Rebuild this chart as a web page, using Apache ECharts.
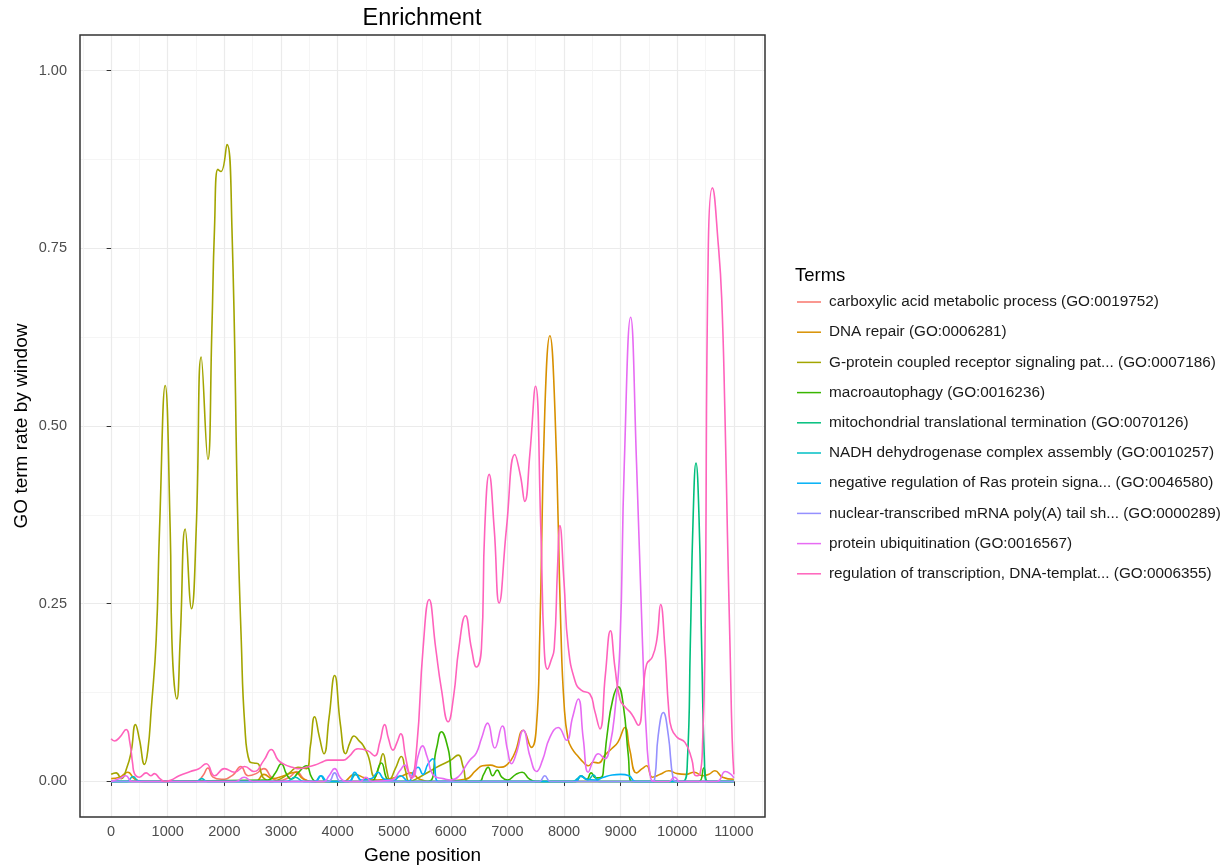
<!DOCTYPE html>
<html>
<head>
<meta charset="utf-8">
<title>Enrichment</title>
<script src="https://cdn.jsdelivr.net/npm/echarts@6/dist/echarts.min.js"></script>
<style>
  html, body { margin: 0; padding: 0; background: #ffffff; }
  #chart { width: 1225px; height: 865px; }
</style>
</head>
<body>
<div id="chart"></div>
<script>
// GO term names, in legend / drawing order
const terms = [
  'carboxylic acid metabolic process (GO:0019752)',
  'DNA repair (GO:0006281)',
  'G-protein coupled receptor signaling pat... (GO:0007186)',
  'macroautophagy (GO:0016236)',
  'mitochondrial translational termination (GO:0070126)',
  'NADH dehydrogenase complex assembly (GO:0010257)',
  'negative regulation of Ras protein signa... (GO:0046580)',
  'nuclear-transcribed mRNA poly(A) tail sh... (GO:0000289)',
  'protein ubiquitination (GO:0016567)',
  'regulation of transcription, DNA-templat... (GO:0006355)'
];
const termColors = ['#F8766D', '#D89000', '#A3A500', '#39B600', '#00BF7D',
                    '#00BFC4', '#00B0F6', '#9590FF', '#E76BF3', '#FF62BC'];

// [gene position, GO term rate] per term
const carboxylic = [[0,0],[1500,0],[1620,0.008],[1710,0.019],[1800,0.006],[1950,0.003],[2150,0.009],[2290,0.021],[2420,0.008],[2560,0.011],[2700,0.018],[2830,0.006],[2950,0.001],[3150,0.006],[3280,0.014],[3400,0.004],[3550,0],[11000,0]];
const dnaRepair = [[0,0.004],[150,0.006],[295,0.013],[420,0.003],[600,0],[2550,0],[2700,0.01],[2850,0.004],[3050,0.008],[3250,0.013],[3400,0.003],[3600,0],[4100,0],[4300,0.01],[4480,0.005],[4700,0.002],[5100,0.007],[5300,0.012],[5450,0.003],[5700,0],[6250,0.003],[6450,0.016],[6560,0.022],[6700,0.023],[6850,0.02],[7000,0.024],[7130,0.04],[7280,0.072],[7425,0.048],[7510,0.075],[7570,0.2],[7660,0.52],[7750,0.627],[7840,0.52],[7944,0.215],[8000,0.11],[8070,0.06],[8150,0.045],[8250,0.035],[8340,0.027],[8430,0.022],[8517,0.027],[8610,0.026],[8720,0.037],[8840,0.046],[8950,0.055],[9076,0.076],[9160,0.045],[9282,0.012],[9380,0.018],[9460,0.022],[9560,0.006],[9700,0.01],[9850,0.015],[10000,0.011],[10150,0.01],[10300,0.013],[10450,0.008],[10560,0.01],[10665,0.015],[10800,0.006],[11000,0.003]];
const gProtein = [[0,0.01],[88,0.012],[177,0.004],[280,0.02],[354,0.042],[430,0.08],[500,0.059],[590,0.024],[650,0.045],[707,0.1],[796,0.2],[855,0.355],[955,0.557],[1043,0.355],[1073,0.2],[1161,0.116],[1220,0.2],[1308,0.355],[1420,0.243],[1503,0.355],[1591,0.597],[1709,0.453],[1780,0.637],[1826,0.778],[1885,0.861],[1940,0.858],[2046,0.896],[2134,0.778],[2240,0.355],[2298,0.2],[2360,0.08],[2445,0.028],[2520,0.026],[2594,0.025],[2650,0.012],[2705,0.004],[2850,0],[3000,0.004],[3150,0.012],[3300,0.02],[3448,0.018],[3520,0.05],[3595,0.091],[3680,0.062],[3759,0.039],[3850,0.09],[3948,0.149],[4050,0.08],[4143,0.039],[4220,0.055],[4290,0.064],[4380,0.057],[4449,0.051],[4537,0.037],[4655,0.006],[4730,0.02],[4802,0.039],[4870,0.015],[4920,0.003],[5020,0.018],[5127,0.035],[5200,0.015],[5270,0],[5400,0.004],[5600,0.013],[5800,0.022],[6000,0.03],[6130,0.037],[6220,0.02],[6306,0],[11000,0]];
const macroautophagy = [[0,0],[2770,0.002],[2900,0.012],[3006,0.025],[3100,0.01],[3182,0.003],[3300,0.012],[3448,0.022],[3540,0.006],[3620,0],[4600,0],[4655,0.004],[4774,0.026],[4890,0.002],[5000,0],[5600,0],[5746,0.046],[5834,0.07],[5953,0.046],[6070,0],[6500,0],[6580,0.01],[6660,0.02],[6740,0.008],[6820,0.016],[6900,0.006],[7000,0.002],[7150,0.01],[7260,0.013],[7380,0.004],[7500,0],[8200,0],[8300,0.008],[8400,0.003],[8480,0.012],[8560,0.005],[8663,0.006],[8700,0.02],[8760,0.065],[8860,0.115],[8958,0.133],[9047,0.107],[9135,0.037],[9194,0],[10380,0],[10470,0.019],[10540,0],[11000,0]];
const mitoTermination = [[0,0],[10100,0],[10180,0.03],[10230,0.19],[10280,0.37],[10331,0.448],[10385,0.37],[10431,0.19],[10480,0.03],[10520,0],[11000,0]];
const nadhAssembly = [[0,0],[280,0],[384,0.007],[480,0.001],[600,0],[1500,0],[1600,0.004],[1700,0],[3100,0],[3250,0.006],[3400,0],[3600,0],[3700,0.008],[3800,0],[4200,0],[4320,0.01],[4450,0],[8150,0],[8300,0.007],[8420,0.002],[8520,0.009],[8620,0],[11000,0]];
const rasNegReg = [[0,0],[3600,0],[3713,0.008],[3820,0],[4200,0],[4302,0.013],[4420,0.002],[4600,0.004],[4715,0.013],[4830,0.003],[5000,0.002],[5110,0.008],[5250,0],[5350,0.015],[5422,0.02],[5505,0.01],[5600,0.025],[5686,0.032],[5776,0],[8200,0],[8300,0.008],[8400,0.003],[8550,0.002],[8700,0.006],[8850,0.009],[9000,0.01],[9150,0.008],[9260,0],[11000,0]];
const polyATail = [[0,0],[3830,0],[3948,0.012],[4060,0],[7560,0],[7660,0.008],[7760,0],[9540,0],[9600,0.003],[9664,0.065],[9754,0.097],[9842,0.065],[9930,0.003],[10000,0],[11000,0]];
const ubiquitination = [[0,0],[150,0.004],[260,0.008],[370,0],[2200,0],[2350,0.006],[2500,0],[3750,0],[3850,0.008],[3948,0.018],[4050,0.005],[4150,0],[4400,0],[4500,0.006],[4600,0],[4950,0.002],[5100,0.015],[5186,0.023],[5260,0.012],[5333,0.006],[5420,0.035],[5500,0.05],[5580,0.035],[5700,0.008],[5864,0.004],[6000,0.002],[6150,0.008],[6250,0.02],[6335,0.03],[6450,0.04],[6540,0.06],[6650,0.082],[6777,0.047],[6910,0.078],[7000,0.045],[7072,0.025],[7160,0.04],[7280,0.072],[7400,0.035],[7514,0.014],[7620,0.03],[7750,0.062],[7898,0.076],[8045,0.058],[8150,0.09],[8251,0.116],[8340,0.06],[8427,0.013],[8520,0.03],[8605,0.039],[8722,0.032],[8810,0.05],[8900,0.1],[8987,0.19],[9064,0.445],[9176,0.653],[9282,0.445],[9388,0.19],[9460,0.06],[9530,0.005],[9600,0],[9850,0],[9950,0.006],[10050,0],[10700,0],[10850,0.014],[10950,0.01],[11000,0.005]];
const transcriptionReg = [[0,0.06],[60,0.057],[150,0.062],[265,0.073],[330,0.055],[380,0.025],[412,0.011],[500,0.006],[619,0.012],[700,0.008],[766,0.011],[860,0.004],[950,0],[1060,0.002],[1200,0.008],[1400,0.014],[1550,0.018],[1680,0.025],[1830,0.008],[2000,0.018],[2180,0.013],[2357,0.021],[2520,0.014],[2700,0.03],[2829,0.045],[2950,0.03],[3060,0.024],[3200,0.02],[3300,0.018],[3450,0.02],[3600,0.023],[3720,0.027],[3830,0.03],[3950,0.03],[4100,0.03],[4200,0.035],[4360,0.046],[4537,0.043],[4655,0.036],[4745,0.055],[4832,0.08],[4900,0.06],[4980,0.044],[5050,0.055],[5115,0.067],[5200,0.035],[5260,0.012],[5300,0.004],[5400,0.05],[5510,0.187],[5617,0.256],[5734,0.187],[5834,0.13],[5953,0.084],[6050,0.12],[6141,0.187],[6259,0.233],[6365,0.187],[6453,0.161],[6541,0.187],[6600,0.356],[6677,0.432],[6766,0.356],[6854,0.251],[6983,0.356],[7131,0.46],[7230,0.43],[7307,0.394],[7396,0.46],[7496,0.556],[7590,0.356],[7650,0.187],[7709,0.158],[7770,0.17],[7827,0.187],[7885,0.3],[7926,0.36],[8000,0.28],[8074,0.19],[8200,0.14],[8310,0.128],[8457,0.123],[8540,0.1],[8634,0.074],[8730,0.15],[8820,0.212],[8900,0.16],[8990,0.115],[9076,0.105],[9194,0.095],[9312,0.079],[9400,0.13],[9460,0.165],[9560,0.175],[9640,0.2],[9707,0.249],[9780,0.19],[9850,0.1],[9900,0.074],[10000,0.062],[10136,0.055],[10254,0.032],[10330,0.008],[10400,0.01],[10450,0.06],[10490,0.19],[10549,0.754],[10620,0.835],[10726,0.754],[10785,0.68],[10843,0.515],[10886,0.35],[10932,0.19],[10970,0.06],[11000,0.01]];

const termSeries = [carboxylic, dnaRepair, gProtein, macroautophagy, mitoTermination,
                    nadhAssembly, rasNegReg, polyATail, ubiquitination, transcriptionReg];

// axis breaks
const xTicks = [0, 1000, 2000, 3000, 4000, 5000, 6000, 7000, 8000, 9000, 10000, 11000];
const xMinorTicks = [-500, 500, 1500, 2500, 3500, 4500, 5500, 6500, 7500, 8500, 9500, 10500, 11500];
const yTicks = [0, 0.25, 0.5, 0.75, 1];
const yMinorTicks = [0.125, 0.375, 0.625, 0.875];

const FONT = '"Liberation Sans", Arial, Helvetica, sans-serif';
const xRange = { min: -550, max: 11550 };
const yRange = { min: -0.05, max: 1.05 };
const panel = { left: 80, top: 35, width: 685, height: 782 };

const chart = echarts.init(document.getElementById('chart'), null, { renderer: 'canvas' });

// axes that only carry the lighter minor grid lines
const minorAxisParts = {
  axisLine: { show: false },
  axisLabel: { show: false }
};

chart.setOption({
  animation: false,
  backgroundColor: '#ffffff',
  title: [
    {
      text: 'Enrichment',
      left: 417,
      top: 2,
      textAlign: 'center',
      textStyle: { fontFamily: FONT, fontSize: 23.5, fontWeight: 'normal', color: '#000000' }
    },
    {
      text: 'Terms',
      left: 790,
      top: 261,
      textStyle: { fontFamily: FONT, fontSize: 18.5, fontWeight: 'normal', color: '#000000' }
    }
  ],
  legend: {
    orient: 'vertical',
    left: 797,
    top: 294,
    padding: 0,
    itemWidth: 24,
    itemHeight: 1.5,
    itemGap: 14.2,
    icon: 'rect',
    data: terms,
    textStyle: { fontFamily: FONT, fontSize: 15.3, lineHeight: 16, color: '#1a1a1a', padding: [0, 0, 0, 3] }
  },
  grid: {
    ...panel,
    show: false,
    containLabel: false,
    outerBoundsMode: 'none'
  },
  // panel frame, drawn above the grid lines
  graphic: [{
    type: 'rect',
    z: 100,
    silent: true,
    shape: { x: panel.left, y: panel.top, width: panel.width, height: panel.height },
    style: { fill: null, stroke: '#333333', lineWidth: 1.5 }
  }],
  xAxis: [
    {
      type: 'value', ...xRange,
      name: 'Gene position', nameLocation: 'middle', nameGap: 29.5, nameMoveOverlap: false,
      nameTextStyle: { fontFamily: FONT, fontSize: 19, color: '#000000' },
      axisLine: { show: false },
      axisTick: { show: true, length: 4.5, customValues: xTicks, lineStyle: { color: '#333333', width: 1 } },
      axisLabel: { customValues: xTicks, margin: 7, fontFamily: FONT, fontSize: 14.5, color: '#4d4d4d',
                   formatter: v => String(v) },
      splitLine: { show: true, lineStyle: { color: '#ebebeb', width: 1.2 } }
    },
    {
      type: 'value', ...xRange, position: 'bottom', ...minorAxisParts,
      axisTick: { show: false, length: 0, customValues: xMinorTicks },
      splitLine: { show: true, lineStyle: { color: '#f3f3f3', width: 0.8 } }
    }
  ],
  yAxis: [
    {
      type: 'value', ...yRange,
      name: 'GO term rate by window', nameLocation: 'middle', nameGap: 49, nameRotate: 90,
      nameMoveOverlap: false,
      nameTextStyle: { fontFamily: FONT, fontSize: 19, color: '#000000' },
      axisLine: { show: false },
      axisTick: { show: true, length: 4.5, customValues: yTicks, lineStyle: { color: '#333333', width: 1 } },
      axisLabel: { customValues: yTicks, margin: 13, fontFamily: FONT, fontSize: 14.5, color: '#4d4d4d',
                   formatter: v => v.toFixed(2) },
      splitLine: { show: true, lineStyle: { color: '#ebebeb', width: 1.2 } }
    },
    {
      type: 'value', ...yRange, position: 'left', ...minorAxisParts,
      axisTick: { show: false, length: 0, customValues: yMinorTicks },
      splitLine: { show: true, lineStyle: { color: '#f3f3f3', width: 0.8 } }
    }
  ],
  series: terms.map((name, i) => ({
    name,
    type: 'line',
    xAxisIndex: 0,
    yAxisIndex: 0,
    data: termSeries[i],
    smooth: 0.5,
    showSymbol: false,
    symbol: 'none',
    color: termColors[i],
    lineStyle: { color: termColors[i], width: 1.6 },
    emphasis: { disabled: true }
  }))
});
</script>
</body>
</html>
